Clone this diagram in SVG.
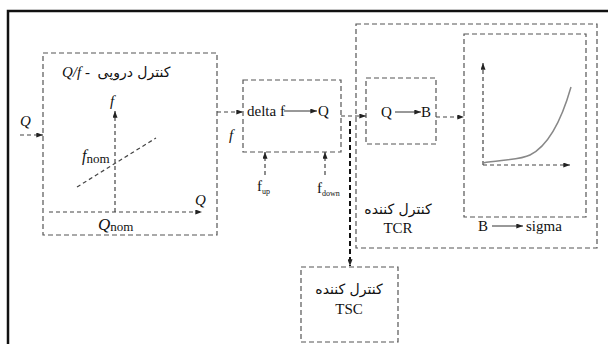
<svg xmlns="http://www.w3.org/2000/svg" width="608" height="344" viewBox="0 0 608 344">
<style>
.box{fill:none;stroke:#555;stroke-width:1.2;stroke-dasharray:5 3}
.dl{fill:none;stroke:#444;stroke-width:1.2;stroke-dasharray:4 3}
.sl{fill:none;stroke:#333;stroke-width:1}
text{font-family:'Liberation Serif',serif;font-size:15px;fill:#111}
.i{font-style:italic}
.fa{font-family:'DejaVu Sans','Noto Sans',sans-serif;font-size:14px}
</style>
<defs>
<marker id="ah" viewBox="0 0 8 6" refX="8" refY="3" markerWidth="7" markerHeight="5" orient="auto" markerUnits="userSpaceOnUse"><path d="M0,0 L8,3 L0,6 z" fill="#222"/></marker>
</defs>
<rect width="608" height="344" fill="#fff"/>
<path d="M8,344 L8,11 L608,11" fill="none" stroke="#111" stroke-width="2.5"/>

<g id="droop">
<rect class="box" x="43" y="53" width="174" height="182"/>
<text class="i" x="62" y="77" font-size="16">Q/f -</text>
<text class="fa" x="134" y="77" text-anchor="middle" font-size="15.5">کنترل دروپی</text>
<line class="dl" x1="115" y1="212" x2="115" y2="111" marker-end="url(#ah)"/>
<line class="dl" x1="49" y1="212" x2="202" y2="212" marker-end="url(#ah)"/>
<line class="dl" x1="77" y1="187" x2="156" y2="138"/>
<text class="i" x="110" y="106" font-size="16">f</text>
<text class="i" x="195" y="205" font-size="17">Q</text>
<text x="82" y="161"><tspan class="i" font-size="16">f</tspan><tspan font-size="13" dy="2">nom</tspan></text>
<text x="98" y="230"><tspan class="i" font-size="17">Q</tspan><tspan font-size="13" dy="1">nom</tspan></text>
</g>

<g id="deltaf">
<rect class="box" x="243" y="80" width="98" height="72"/>
<text x="247" y="116">delta f</text>
<line class="sl" x1="284" y1="111" x2="317" y2="111" marker-end="url(#ah)"/>
<text x="318" y="116">Q</text>
</g>

<g id="tcr">
<rect class="box" x="356" y="24" width="241" height="224"/>
<text class="fa" x="398" y="214" text-anchor="middle">کنترل کننده</text>
<text x="398" y="233" text-anchor="middle">TCR</text>
</g>

<g id="qb">
<rect class="box" x="366" y="78" width="70" height="66"/>
<text x="381" y="117">Q</text>
<line class="sl" x1="395" y1="112" x2="421" y2="112" marker-end="url(#ah)"/>
<text x="421" y="117">B</text>
</g>

<g id="sigma">
<rect class="box" x="464" y="34" width="122" height="183"/>
<line class="dl" x1="483" y1="165" x2="483" y2="63" marker-end="url(#ah)"/>
<line class="dl" x1="483" y1="165" x2="570" y2="165" marker-end="url(#ah)"/>
<path d="M483,163 C500,160 520,160 530,155 C550,145 563,115 571,87" fill="none" stroke="#888" stroke-width="1.5"/>
<text x="478" y="231">B</text>
<line class="sl" x1="492" y1="226" x2="523" y2="226" marker-end="url(#ah)"/>
<text x="526" y="231">sigma</text>
</g>

<g id="tsc">
<rect class="box" x="301" y="267" width="97" height="75"/>
<text class="fa" x="349" y="294" text-anchor="middle">کنترل کننده</text>
<text x="349" y="314" text-anchor="middle">TSC</text>
</g>

<g id="connectors">
<text class="i" x="20" y="126" font-size="17">Q</text>
<line class="dl" x1="20" y1="135" x2="43" y2="135" marker-end="url(#ah)"/>
<line class="dl" x1="217" y1="112" x2="243" y2="112" marker-end="url(#ah)"/>
<text class="i" x="229" y="140" font-size="17">f</text>
<line class="dl" x1="265" y1="175" x2="265" y2="152" marker-end="url(#ah)"/>
<line class="dl" x1="325" y1="175" x2="325" y2="152" marker-end="url(#ah)"/>
<text x="257" y="191" font-size="13">f<tspan font-size="8" dy="3">up</tspan></text>
<text x="317" y="193" font-size="13">f<tspan font-size="8" dy="3">down</tspan></text>
<line class="dl" x1="341" y1="116" x2="366" y2="116" marker-end="url(#ah)"/>
<line class="dl" x1="436" y1="117" x2="464" y2="117" marker-end="url(#ah)"/>
<line x1="350" y1="121" x2="350" y2="266" fill="none" stroke="#111" stroke-width="2" stroke-dasharray="5 3" marker-end="url(#ah)"/>
</g>
</svg>
